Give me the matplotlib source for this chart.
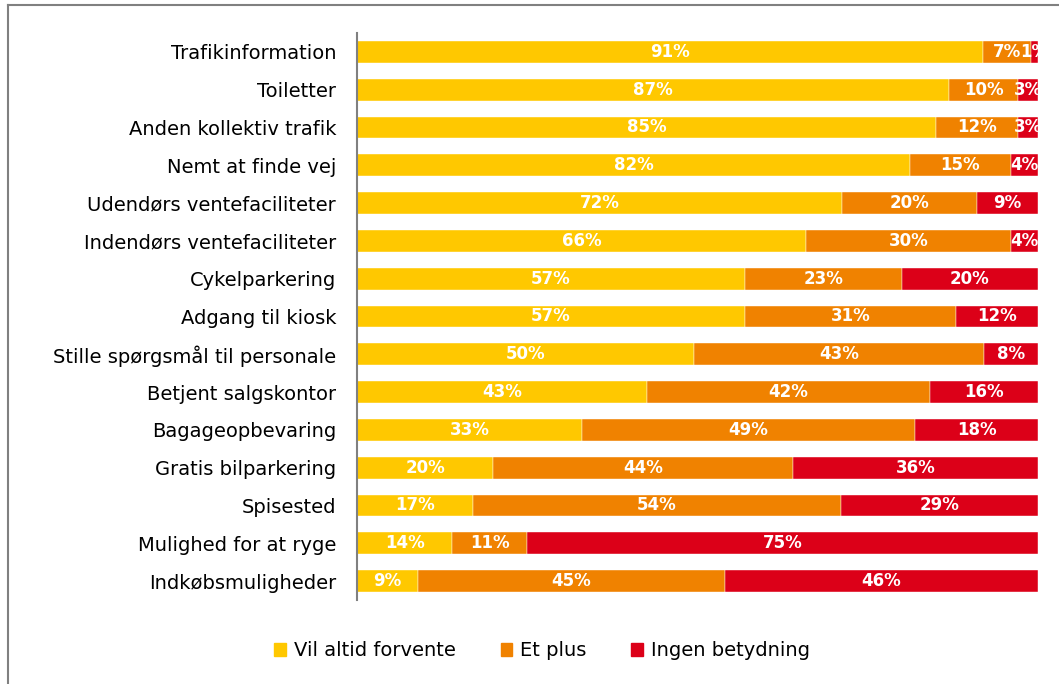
import matplotlib
matplotlib.use("Agg")
import matplotlib.pyplot as plt
from matplotlib.lines import Line2D
from matplotlib.patches import Patch
import numpy as np

categories = [
    "Trafikinformation", "Toiletter", "Anden kollektiv trafik", "Nemt at finde vej",
    "Udendørs ventefaciliteter", "Indendørs ventefaciliteter", "Cykelparkering",
    "Adgang til kiosk", "Stille spørgsmål til personale", "Betjent salgskontor",
    "Bagageopbevaring", "Gratis bilparkering", "Spisested", "Mulighed for at ryge",
    "Indkøbsmuligheder",
]
vil_altid = [91, 87, 85, 82, 72, 66, 57, 57, 50, 43, 33, 20, 17, 14, 9]
et_plus = [7, 10, 12, 15, 20, 30, 23, 31, 43, 42, 49, 44, 54, 11, 45]
ingen = [1, 3, 3, 4, 9, 4, 20, 12, 8, 16, 18, 36, 29, 75, 46]
series_names = ["Vil altid forvente", "Et plus", "Ingen betydning"]
colors = ["#FFC800", "#F08200", "#DC0018"]

plt.rcParams["font.family"] = ["DejaVu Sans"]

fig = plt.figure(figsize=(10.59, 6.84), dpi=100)
ax = fig.add_axes([357 / 1059, 1 - 600 / 684, 681 / 1059, 567 / 684])

data = np.array([vil_altid, et_plus, ingen], dtype=float)
shares = data / data.sum(axis=0) * 100
y = np.arange(len(categories))
left = np.zeros(len(categories))
for vals, raw, col, name in zip(shares, data, colors, series_names):
    ax.barh(y, vals, left=left, height=0.58, color=col, label=name,
            edgecolor="white", linewidth=0.3)
    for yi, l, v, r in zip(y, left, vals, raw):
        ax.text(l + v / 2, yi, f"{int(r)}%", ha="center", va="center",
                color="white", fontsize=12, fontweight="bold")
    left += vals

ax.set_xlim(0, 100)
ax.set_ylim(len(categories) - 0.5, -0.5)
ax.set_yticks(y)
ax.set_yticklabels(categories, fontsize=14)
ax.set_xticks([])
ax.tick_params(axis="y", length=0, pad=15)
for s in ["top", "right", "bottom"]:
    ax.spines[s].set_visible(False)
ax.spines["left"].set_color("#808080")
ax.spines["left"].set_linewidth(1.5)

handles = [Patch(color=c) for c in colors]
fig.legend(handles, series_names, loc="center", bbox_to_anchor=(542 / 1059, 1 - 651 / 684),
           ncol=3, frameon=False, fontsize=14, handlelength=0.6, handleheight=0.6,
           handletextpad=0.4, columnspacing=2.3)

# outer chart border (left and top visible)
fig.add_artist(Line2D([8 / 1059, 8 / 1059], [0, 1 - 5 / 684], transform=fig.transFigure,
                      color="#808080", linewidth=1.5))
fig.add_artist(Line2D([8 / 1059, 1], [1 - 5 / 684, 1 - 5 / 684], transform=fig.transFigure,
                      color="#808080", linewidth=1.5))

fig.savefig("out.png", dpi=100)
